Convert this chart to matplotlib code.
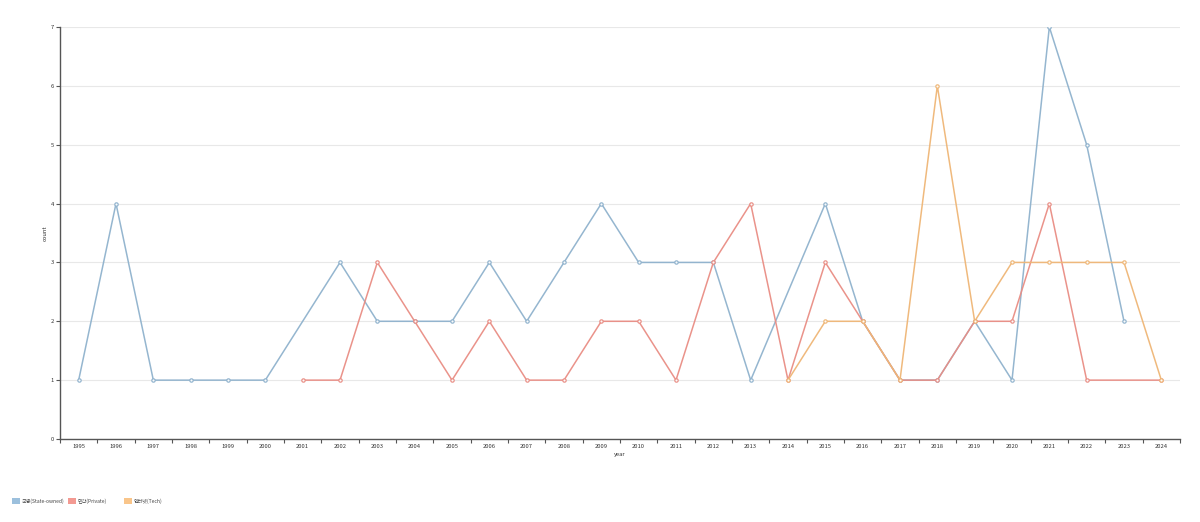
import matplotlib
matplotlib.use("Agg")
import matplotlib.pyplot as plt
from matplotlib.patches import Rectangle
import numpy as np

plt.rcParams['font.family'] = ['Noto Sans CJK KR', 'DejaVu Sans']

years = list(range(1995, 2025))
series_names = ["국영(State-owned)", "민간(Private)", "인터넷(Tech)"]
state_owned = [1, 4, 1, 1, 1, 1, None, 3, 2, 2, 2, 3, 2, 3, 4, 3, 3, 3, 1, None,
               4, 2, 1, 1, 2, 1, 7, 5, 2, None]
private = [None, None, None, None, None, None, 1, 1, 3, 2, 1, 2, 1, 1, 2, 2, 1, 3, 4, 1,
           3, 2, 1, 1, 2, 2, 4, 1, None, 1]
tech = [None] * 19 + [1, 2, 2, 1, 6, 2, 3, 3, 3, 3, 1]
colors = ["#8fb2cd", "#e98d84", "#efb676"]
legend_colors = ["#9cc0dd", "#f39a92", "#f9c58a"]

fig = plt.figure(figsize=(12, 5.22), dpi=100)
ax = fig.add_axes([60/1200, 1-439/522, 1120/1200, 412/522])

for vals, c in zip([state_owned, private, tech], colors):
    xs = [i for i, v in enumerate(vals) if v is not None]
    ys = [v for v in vals if v is not None]
    ax.plot(xs, ys, color=c, lw=1.1, marker='o', markersize=2.4, alpha=0.95,
            markerfacecolor='white', markeredgecolor=c, markeredgewidth=0.9, zorder=3)

ax.set_xlim(-0.5, len(years) - 0.5)
ax.set_ylim(0, 7)
ax.set_xticks(range(len(years)))
ax.set_xticklabels([str(y) for y in years], fontsize=4.2, color='#333333')
ax.tick_params(axis='x', which='major', length=0, pad=3.5)
ax.set_xticks(np.arange(-0.5, len(years), 1.0), minor=True)
ax.tick_params(axis='x', which='minor', length=3, width=0.8, color='#555555')
ax.set_yticks(range(0, 8))
ax.tick_params(axis='y', labelsize=4.2, length=3, width=0.8, color='#555555', labelcolor='#333333', pad=1.5)
ax.grid(axis='y', color='#e8e8e8', lw=0.8, zorder=0)
for s in ['top', 'right']:
    ax.spines[s].set_visible(False)
for s in ['left', 'bottom']:
    ax.spines[s].set_color('#555555')
    ax.spines[s].set_linewidth(1.0)

ax.set_xlabel("year", fontsize=4.2, color='#333333', labelpad=2)
ax.set_ylabel("count", fontsize=4.2, color='#333333', labelpad=2)

# legend
for i, (name, c) in enumerate(zip(series_names, legend_colors)):
    x0 = 12 + 56 * i
    fig.add_artist(Rectangle((x0/1200, 1-504/522), 8/1200, 6/522, transform=fig.transFigure,
                             facecolor=c, edgecolor='none'))
    fig.text((x0 + 10)/1200, 1-501/522, name, fontsize=3.6, color='#444444', va='center', ha='left')

fig.savefig("out.png", dpi=100, facecolor='white')
